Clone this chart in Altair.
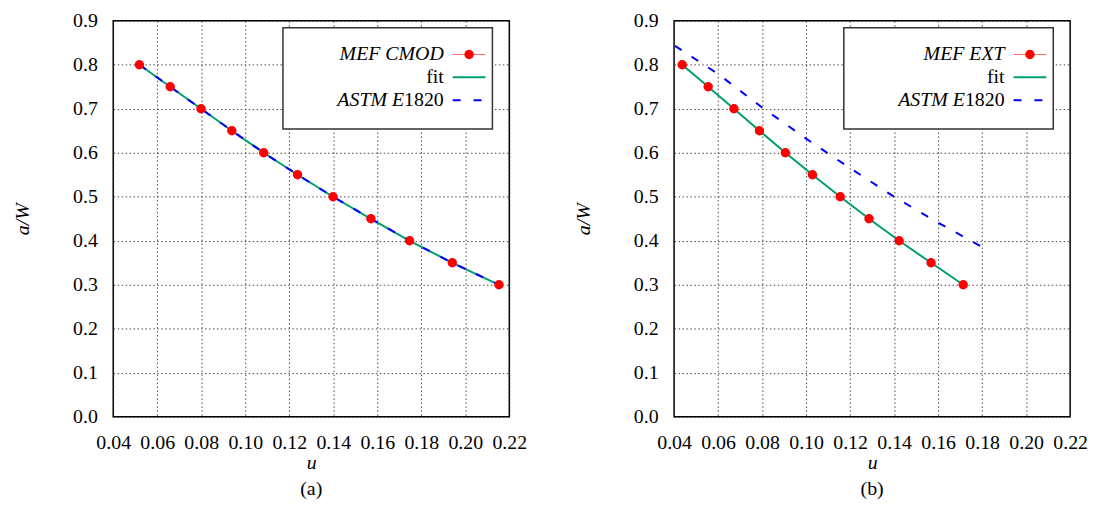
import altair as alt
import pandas as pd

# ---------------- data ----------------
aw_levels = [0.80, 0.75, 0.70, 0.65, 0.60, 0.55, 0.50, 0.45, 0.40, 0.35, 0.30]

# panel (a): MEF CMOD
u_cmod = [0.0519, 0.0659, 0.0799, 0.0939, 0.1084, 0.1238, 0.1399, 0.1571, 0.1747, 0.1941, 0.2153]
fit_u_a = [0.0519, 0.0659, 0.0799, 0.0939, 0.1084, 0.1238, 0.1399, 0.1571, 0.1747, 0.1941, 0.2153]
fit_aw_a = [0.80, 0.75, 0.70, 0.65, 0.60, 0.55, 0.50, 0.45, 0.40, 0.35, 0.30]
astm_u_a = [0.0519, 0.0659, 0.0799, 0.0939, 0.1084, 0.1238, 0.1399, 0.1571, 0.1747, 0.1941, 0.2153]
astm_aw_a = [0.80, 0.75, 0.70, 0.65, 0.60, 0.55, 0.50, 0.45, 0.40, 0.35, 0.30]

# panel (b): MEF EXT
u_ext = [0.0437, 0.0555, 0.0672, 0.0788, 0.0906, 0.1029, 0.1155, 0.1286, 0.1423, 0.1568, 0.1714]
fit_u_b = [0.0437, 0.0555, 0.0672, 0.0788, 0.0906, 0.1029, 0.1155, 0.1286, 0.1423, 0.1568, 0.1714]
fit_aw_b = [0.80, 0.75, 0.70, 0.65, 0.60, 0.55, 0.50, 0.45, 0.40, 0.35, 0.30]
astm_u_b = [0.0404, 0.06, 0.08, 0.10, 0.12, 0.14, 0.16, 0.18, 0.1834]
astm_aw_b = [0.843, 0.779, 0.703, 0.632, 0.565, 0.500, 0.441, 0.386, 0.377]

x_ticks = [0.04, 0.06, 0.08, 0.10, 0.12, 0.14, 0.16, 0.18, 0.20, 0.22]
y_ticks = [0.0, 0.1, 0.2, 0.3, 0.4, 0.5, 0.6, 0.7, 0.8, 0.9]

SERIF = "'Liberation Serif', 'Times New Roman', Times, serif"
W = 399
H = 399
FS = 20


def panel(u_pts, aw_pts, fu, faw, au, aaw, mef_name, tag):
    pts = pd.DataFrame({"u": u_pts, "aw": aw_pts})
    fit = pd.DataFrame({"u": fu, "aw": faw})
    astm = pd.DataFrame({"u": au, "aw": aaw})

    xs = alt.Scale(domain=[0.04, 0.22], nice=False, zero=False)
    ys = alt.Scale(domain=[0.0, 0.9], nice=False, zero=False)
    xenc = alt.X("u:Q", scale=xs,
                 axis=alt.Axis(values=x_ticks, format=".2f", title="u",
                               titleFontStyle="italic", labelFlush=False,
                               labelOverlap=False))
    yenc = alt.Y("aw:Q", scale=ys,
                 axis=alt.Axis(values=y_ticks, format=".1f", title="a/W",
                               titleFontStyle="italic", labelFlush=False,
                               labelOverlap=False))

    red_line = alt.Chart(pts).mark_line(color="#ff0000", strokeWidth=1, opacity=0.6).encode(
        x=xenc, y=yenc, order="u:Q")
    green = alt.Chart(fit).mark_line(color="#009e73", strokeWidth=2).encode(
        x=xenc, y=yenc, order="u:Q")
    blue = alt.Chart(astm).mark_line(color="#0000ff", strokeWidth=2,
                                     strokeDash=[8, 12]).encode(
        x=xenc, y=yenc, order="u:Q")
    dots = alt.Chart(pts).mark_point(filled=True, color="#ff0000", size=90,
                                     opacity=1, shape="circle").encode(x=xenc, y=yenc)

    # ---- legend box (decoration) ----
    one = pd.DataFrame({"k": [0]})
    box = alt.Chart(one).mark_rect(fill="white", stroke="#333333", strokeWidth=1.5).encode(
        x=alt.value(171), x2=alt.value(382), y=alt.value(7), y2=alt.value(109))
    tx = 333
    t1 = alt.Chart(one).mark_text(align="right", baseline="middle", font=SERIF,
                                  fontSize=20, fontStyle="italic").encode(
        x=alt.value(tx), y=alt.value(34), text=alt.value(mef_name))
    t2 = alt.Chart(one).mark_text(align="right", baseline="middle", font=SERIF,
                                  fontSize=20).encode(
        x=alt.value(tx), y=alt.value(57), text=alt.value("fit"))
    t3a = alt.Chart(one).mark_text(align="right", baseline="middle", font=SERIF,
                                   fontSize=20, fontStyle="italic").encode(
        x=alt.value(tx - 40), y=alt.value(80), text=alt.value("ASTM E"))
    t3b = alt.Chart(one).mark_text(align="right", baseline="middle", font=SERIF,
                                   fontSize=20).encode(
        x=alt.value(tx), y=alt.value(80), text=alt.value("1820"))
    l1 = alt.Chart(one).mark_rule(color="#ff0000", strokeWidth=1, opacity=0.6).encode(
        x=alt.value(342), x2=alt.value(375), y=alt.value(34))
    p1 = alt.Chart(one).mark_point(filled=True, color="#ff0000", size=90, opacity=1,
                                   shape="circle").encode(x=alt.value(358.5), y=alt.value(34))
    l2 = alt.Chart(one).mark_rule(color="#009e73", strokeWidth=2).encode(
        x=alt.value(342), x2=alt.value(375), y=alt.value(57))
    l3 = alt.Chart(one).mark_rule(color="#0000ff", strokeWidth=2, strokeDash=[8, 13]).encode(
        x=alt.value(342), x2=alt.value(375), y=alt.value(80))

    return alt.layer(red_line, green, blue, dots, box, t1, t2, t3a, t3b, l1, p1, l2, l3).properties(
        width=W, height=H,
        title=alt.TitleParams(tag, orient="bottom", font=SERIF, fontSize=FS,
                              fontWeight="normal", color="black", offset=7))


left = panel(u_cmod, aw_levels, fit_u_a, fit_aw_a, astm_u_a, astm_aw_a, "MEF CMOD", "(a)")
right = panel(u_ext, aw_levels, fit_u_b, fit_aw_b, astm_u_b, astm_aw_b, "MEF EXT", "(b)")

chart = alt.hconcat(left, right, spacing=45).properties(
    padding={"left": 4, "top": 0, "right": 0, "bottom": 0}
).configure_view(
    stroke="black", strokeWidth=1.5
).configure_axis(
    domain=False, tickSize=0, grid=True, gridColor="#333333", gridDash=[1.5, 2.5],
    gridWidth=0.9, labelFont=SERIF, labelFontSize=FS, labelColor="black",
    titleFont=SERIF, titleFontSize=FS, titleFontWeight="normal", titleColor="black",
    labelPadding=16
).configure_axisY(
    titlePadding=40
).configure_axisX(
    titlePadding=0
)

chart.save("out.html", embed_options={"renderer": "svg", "actions": False})
